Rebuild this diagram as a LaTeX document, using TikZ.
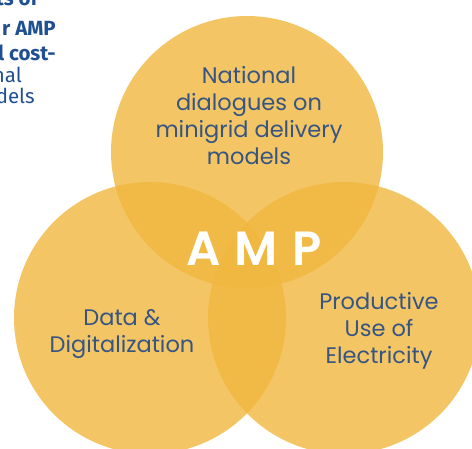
\documentclass[tikz,border=0pt]{standalone}
\usepackage{fontspec}
\setmainfont{Poppins}
\newfontfamily\sidefont{Fira Sans}
\newfontfamily\ampfont[LetterSpace=30]{Poppins SemiBold}
\definecolor{petalc}{RGB}{240,183,62}
\definecolor{ink}{RGB}{55,85,130}
\definecolor{sideblue}{RGB}{32,80,145}

\begin{document}
\begin{tikzpicture}[x=1pt,y=-1pt,
  petal/.style={fill=petalc, fill opacity=0.8},
  ringtext/.style={text=ink, font=\fontsize{22.5}{27}\selectfont, align=center, inner sep=0pt},
  sidebold/.style={text=sideblue, font=\sidefont\bfseries\fontsize{20.5}{24}\selectfont, anchor=base east, inner sep=0pt},
  sidereg/.style={text=sideblue, font=\sidefont\fontsize{20.5}{24}\selectfont, anchor=base east, inner sep=0pt}]
\useasboundingbox (0,0) rectangle (472,448);
\clip (0,0) rectangle (472,448);

% three overlapping circles
\fill[petal] (247,152) circle[radius=136pt];
\fill[petal] (150,318) circle[radius=136pt];
\fill[petal] (344,318) circle[radius=136pt];

% circle captions
\node[ringtext] (national) at (249,116) {National\\dialogues on\\minigrid delivery\\models};
\node[ringtext] (data) at (122,334) {Data \&\\Digitalization};
\node[ringtext] (pue) at (379,331) {Productive\\Use of\\Electricity};
\node[text=white, font=\ampfont\fontsize{48}{52}\selectfont, inner sep=0pt] (amp) at (254,249) {AMP};

% partly hidden side text
\node[sidebold] (side1) at (38,5) {ts of};
\node[sidebold] (side2) at (56,35) {r AMP};
\node[sidebold] (side3) at (56,60) {l cost-};
\node[sidereg] (side4) at (22,82) {nal};
\node[sidereg] (side5) at (35,103) {dels};
\end{tikzpicture}
\end{document}
